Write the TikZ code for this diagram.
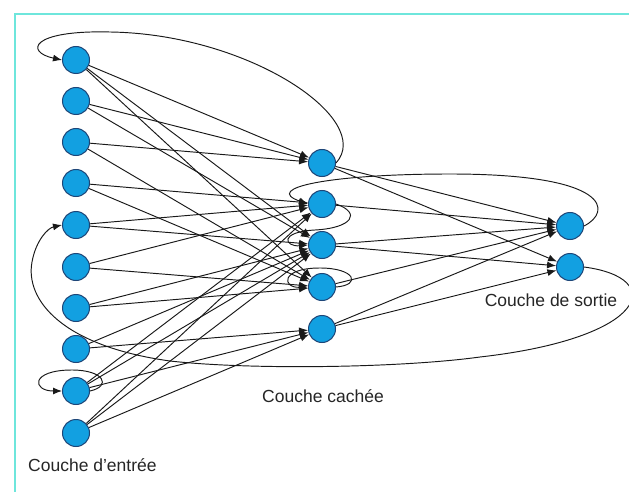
\documentclass[tikz,border=0pt]{standalone}
\usepackage{fontspec}
\setmainfont{Liberation Sans}
\usetikzlibrary{arrows.meta}
\definecolor{nodefill}{RGB}{18,160,225}
\definecolor{nodeedge}{RGB}{30,70,120}
\definecolor{framecol}{RGB}{110,230,220}
\begin{document}
\begin{tikzpicture}[x=1pt,y=-1pt,
  neuron/.style={circle,draw=nodeedge,fill=nodefill,line width=1pt,minimum size=27pt,inner sep=0pt},
  link/.style={draw=black!90,line width=0.95pt,-{Latex[length=9pt,width=7pt]}},
  lbl/.style={font=\fontsize{17.5}{20}\selectfont,text=black!85,inner sep=0pt}]
\useasboundingbox (0,0) rectangle (629,492);
\fill[white] (0,0) rectangle (629,492);
\draw[framecol,line width=2.5pt] (15,492) -- (15,14) -- (629,14);
% input layer
\foreach \i/\y in {1/60,2/101,3/142,4/183,5/225,6/267,7/308,8/349,9/391,10/433}
  \node[neuron] (I\i) at (76,\y) {};
% hidden layer
\foreach \i/\y in {1/163,2/204,3/245,4/287,5/329}
  \node[neuron] (H\i) at (322,\y) {};
% output layer
\foreach \i/\y in {1/226,2/267}
  \node[neuron] (O\i) at (570,\y) {};
% input -> hidden
\foreach \a/\b in {1/1,1/3,1/4,2/1,2/3,3/1,3/4,4/2,4/4,5/2,5/3,6/2,6/4,7/3,7/4,8/3,8/5,9/2,9/3,9/5,10/2,10/3,10/5}
  \draw[link] (I\a) -- (H\b);
% hidden -> output
\foreach \a/\b in {1/1,1/2,2/1,3/1,3/2,4/1,5/1,5/2}
  \draw[link] (H\a) -- (O\b);
% recurrent loops
\draw[link] (H1.east) .. controls (375,120) and (250,34) .. (110,32)
  .. controls (30,30) and (25,52) .. (I1.west);
\draw[link] (O1.east) .. controls (612,212) and (612,174) .. (450,174)
  .. controls (330,174) and (262,188) .. (H2.west);
\draw[link] (H2.east) .. controls (362,213) and (352,228) .. (315,230)
  .. controls (278,232) and (285,247) .. (H3.west);
\draw[link] (H4.east) .. controls (362,285) and (355,268) .. (320,268)
  .. controls (280,268) and (282,288) .. (H4.west);
\draw[link] (I9.east) .. controls (112,386) and (104,370) .. (72,370)
  .. controls (30,370) and (32,391) .. (I9.west);
\draw[link] (O2.east) .. controls (668,278) and (648,338) .. (480,357)
  .. controls (400,368) and (250,370) .. (170,361)
  .. controls (62,346) and (25,300) .. (32,262)
  .. controls (36,240) and (48,228) .. (I5.west);
% labels
\node[lbl,anchor=west] (Lin) at (28,465) {Couche d'entrée};
\node[lbl] (Lhid) at (323,396) {Couche cachée};
\node[lbl] (Lout) at (551,300) {Couche de sortie};
\end{tikzpicture}
\end{document}
